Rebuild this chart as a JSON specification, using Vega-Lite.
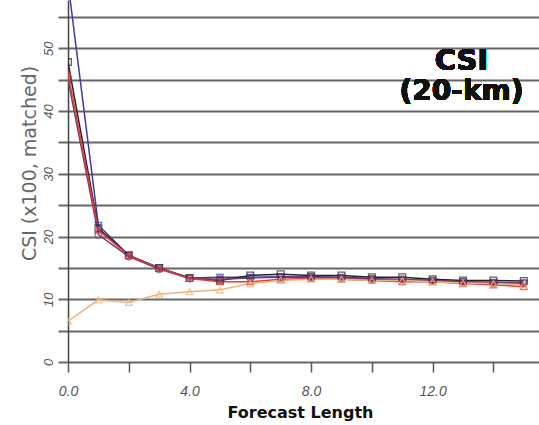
{
  "$schema": "https://vega.github.io/schema/vega-lite/v6.json",
  "width": 471,
  "height": 362,
  "autosize": "none",
  "padding": {"left": 68, "top": 0, "right": 0, "bottom": 63},
  "background": "white",
  "config": {"view": {"stroke": null}, "font": "Liberation Sans"},
  "data": {"values": [
    {"s": "A", "x": 0, "y": 60.5}, {"s": "A", "x": 1, "y": 21.8}, {"s": "A", "x": 2, "y": 17.0}, {"s": "A", "x": 3, "y": 15.0}, {"s": "A", "x": 4, "y": 13.4}, {"s": "A", "x": 5, "y": 13.5}, {"s": "A", "x": 6, "y": 13.5}, {"s": "A", "x": 7, "y": 13.6}, {"s": "A", "x": 8, "y": 13.6}, {"s": "A", "x": 9, "y": 13.5}, {"s": "A", "x": 10, "y": 13.3}, {"s": "A", "x": 11, "y": 13.1}, {"s": "A", "x": 12, "y": 13.0}, {"s": "A", "x": 13, "y": 12.8}, {"s": "A", "x": 14, "y": 12.7}, {"s": "A", "x": 15, "y": 12.6},
    {"s": "B", "x": 0, "y": 47.8}, {"s": "B", "x": 1, "y": 21.3}, {"s": "B", "x": 2, "y": 17.0}, {"s": "B", "x": 3, "y": 15.0}, {"s": "B", "x": 4, "y": 13.4}, {"s": "B", "x": 5, "y": 13.0}, {"s": "B", "x": 6, "y": 13.8}, {"s": "B", "x": 7, "y": 14.0}, {"s": "B", "x": 8, "y": 13.8}, {"s": "B", "x": 9, "y": 13.8}, {"s": "B", "x": 10, "y": 13.5}, {"s": "B", "x": 11, "y": 13.5}, {"s": "B", "x": 12, "y": 13.2}, {"s": "B", "x": 13, "y": 13.0}, {"s": "B", "x": 14, "y": 13.0}, {"s": "B", "x": 15, "y": 12.9},
    {"s": "C", "x": 0, "y": 45.0}, {"s": "C", "x": 1, "y": 20.3}, {"s": "C", "x": 2, "y": 16.8}, {"s": "C", "x": 3, "y": 14.8}, {"s": "C", "x": 4, "y": 13.3}, {"s": "C", "x": 5, "y": 13.2}, {"s": "C", "x": 6, "y": 13.4}, {"s": "C", "x": 7, "y": 13.5}, {"s": "C", "x": 8, "y": 13.5}, {"s": "C", "x": 9, "y": 13.4}, {"s": "C", "x": 10, "y": 13.2}, {"s": "C", "x": 11, "y": 13.2}, {"s": "C", "x": 12, "y": 13.0}, {"s": "C", "x": 13, "y": 12.8}, {"s": "C", "x": 14, "y": 12.6}, {"s": "C", "x": 15, "y": 12.6},
    {"s": "D", "x": 0, "y": 46.0}, {"s": "D", "x": 1, "y": 21.0}, {"s": "D", "x": 2, "y": 17.0}, {"s": "D", "x": 3, "y": 15.0}, {"s": "D", "x": 4, "y": 13.3}, {"s": "D", "x": 5, "y": 12.8}, {"s": "D", "x": 6, "y": 12.8}, {"s": "D", "x": 7, "y": 13.2}, {"s": "D", "x": 8, "y": 13.3}, {"s": "D", "x": 9, "y": 13.2}, {"s": "D", "x": 10, "y": 13.0}, {"s": "D", "x": 11, "y": 12.8}, {"s": "D", "x": 12, "y": 12.8}, {"s": "D", "x": 13, "y": 12.5}, {"s": "D", "x": 14, "y": 12.3}, {"s": "D", "x": 15, "y": 12.0},
    {"s": "E", "x": 0, "y": 6.5}, {"s": "E", "x": 1, "y": 9.9}, {"s": "E", "x": 2, "y": 9.5}, {"s": "E", "x": 3, "y": 10.8}, {"s": "E", "x": 4, "y": 11.2}, {"s": "E", "x": 5, "y": 11.5}, {"s": "E", "x": 6, "y": 12.5}, {"s": "E", "x": 7, "y": 13.0}, {"s": "E", "x": 8, "y": 13.2}, {"s": "E", "x": 9, "y": 13.2}, {"s": "E", "x": 10, "y": 13.0}, {"s": "E", "x": 11, "y": 13.0}, {"s": "E", "x": 12, "y": 12.8}, {"s": "E", "x": 13, "y": 12.6}, {"s": "E", "x": 14, "y": 12.5}, {"s": "E", "x": 15, "y": 12.3}
  ]},
  "encoding": {
    "x": {"field": "x", "type": "quantitative",
      "scale": {"domain": [0, 15.5], "nice": false, "zero": false},
      "axis": {"values": [0, 2, 4, 6, 8, 10, 12, 14], "grid": false, "domain": false,
        "tickSize": 10, "tickColor": "#555", "tickWidth": 1.5, "tickOffset": 0,
        "labelExpr": "datum.value % 4 === 0 ? format(datum.value, '.1f') : ''",
        "labelFlush": false, "labelOverlap": false,
        "labelFont": "Liberation Sans", "labelFontStyle": "italic", "labelFontSize": 14, "labelColor": "#555", "labelPadding": 12,
        "title": "Forecast Length", "titleFont": "DejaVu Sans", "titleFontWeight": "bold", "titleFontSize": 16, "titleColor": "#111",
        "titleY": 50, "titleBaseline": "middle", "titleX": 232}},
    "y": {"field": "y", "type": "quantitative",
      "scale": {"domain": [0, 57.7], "nice": false},
      "axis": {"values": [0, 5, 10, 15, 20, 25, 30, 35, 40, 45, 50, 55], "grid": true, "gridColor": "#666", "gridWidth": 2,
        "domain": true, "domainColor": "#444", "domainWidth": 1.5,
        "tickSize": 10, "tickColor": "#666", "tickWidth": 2,
        "labelExpr": "datum.value % 10 === 0 ? datum.label : ''",
        "labelFlush": false, "labelOverlap": false,
        "labelAngle": -90, "labelAlign": "center", "labelBaseline": "bottom", "labelPadding": 3,
        "labelFont": "Liberation Sans", "labelFontStyle": "italic", "labelFontSize": 13, "labelColor": "#555",
        "title": "CSI (x100, matched)", "titleFont": "DejaVu Sans", "titleFontWeight": "normal", "titleFontSize": 19, "titleColor": "#666",
        "titleX": -39, "titleY": 163, "titleAngle": -90, "titleAlign": "center", "titleBaseline": "middle"}}
  },
  "layer": [
    {"mark": {"type": "line", "strokeWidth": 1.5, "clip": true},
     "encoding": {"color": {"field": "s", "type": "nominal", "legend": null,
        "scale": {"domain": ["E", "D", "C", "B", "A"], "range": ["#f2b27a", "#e23a3a", "#7a3a6a", "#222222", "#3c3ca8"]}},
       "order": {"field": "x"}}},
    {"mark": {"type": "point", "filled": false, "size": 45, "strokeWidth": 1.3, "clip": true},
     "encoding": {"color": {"field": "s", "type": "nominal", "legend": null,
        "scale": {"domain": ["E", "D", "C", "B", "A"], "range": ["#f2b27a", "#e23a3a", "#7a3a6a", "#222222", "#3c3ca8"]}},
       "shape": {"field": "s", "type": "nominal", "legend": null,
        "scale": {"domain": ["E", "D", "C", "B", "A"], "range": ["triangle-up", "triangle-up", "circle", "square", "triangle-down"]}}}},
    {"mark": {"type": "text", "font": "DejaVu Sans", "fontWeight": "bold", "fontSize": 29, "align": "center", "baseline": "middle", "color": "#111"},
     "encoding": {"x": {"datum": 12.95}, "y": {"datum": 48.0}, "text": {"value": "CSI"}}},
    {"mark": {"type": "text", "font": "DejaVu Sans", "fontWeight": "bold", "fontSize": 28, "align": "center", "baseline": "middle", "color": "#111"},
     "encoding": {"x": {"datum": 12.95}, "y": {"datum": 43.0}, "text": {"value": "(20-km)"}}}
  ]
}
